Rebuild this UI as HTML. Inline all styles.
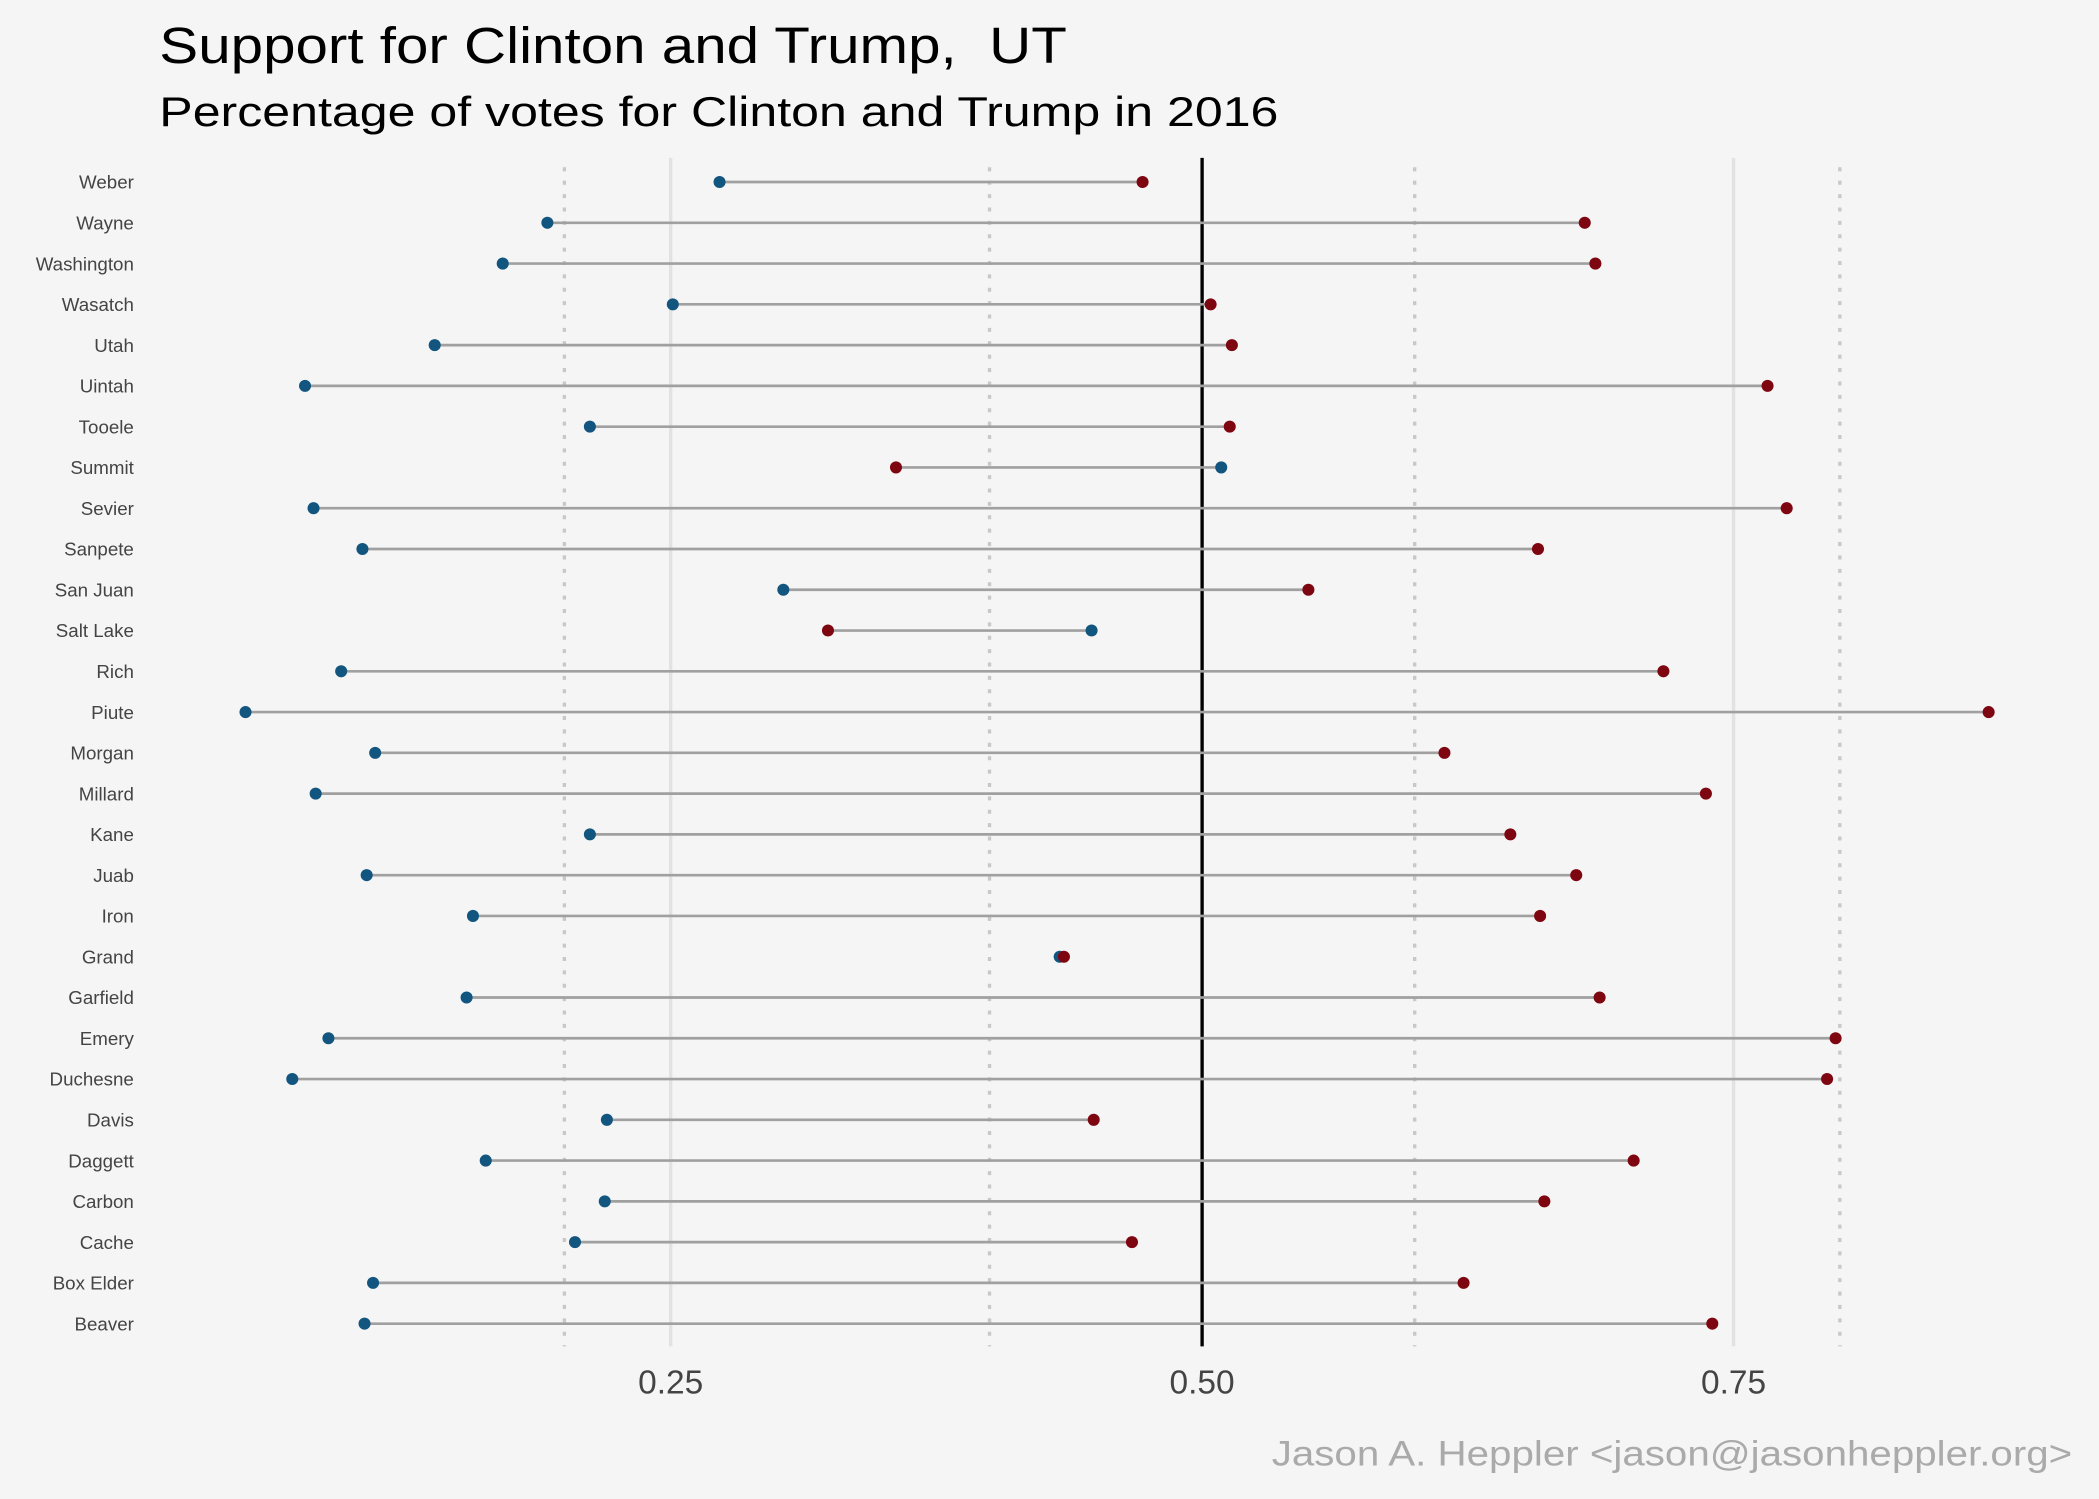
<!DOCTYPE html>
<html><head><meta charset="utf-8"><style>
html,body{margin:0;padding:0;background:#f5f5f5;}
svg{display:block;}
text{font-family:"Liberation Sans",sans-serif;}
</style></head><body>
<svg id="chart" width="2099" height="1499" viewBox="0 0 1568 1120" preserveAspectRatio="none" xmlns="http://www.w3.org/2000/svg">
<rect x="0" y="0" width="1568" height="1120" fill="#f5f5f5"/>
<text x="119" y="47" font-size="38" fill="#000" textLength="678" lengthAdjust="spacingAndGlyphs">Support for Clinton and Trump,&#160; UT</text>
<text x="119" y="94" font-size="31" fill="#000" textLength="836" lengthAdjust="spacingAndGlyphs">Percentage of votes for Clinton and Trump in 2016</text>
<text x="1548" y="1095" font-size="26" fill="#aaa" text-anchor="end" textLength="598" lengthAdjust="spacingAndGlyphs">Jason A. Heppler &lt;jason@jasonheppler.org&gt;</text>
<g id="grid"></g>
<g id="marks"></g>
<g id="labels"></g>
</svg>
<script>
const counties = ["Weber","Wayne","Washington","Wasatch","Utah","Uintah","Tooele","Summit","Sevier","Sanpete","San Juan","Salt Lake","Rich","Piute","Morgan","Millard","Kane","Juab","Iron","Grand","Garfield","Emery","Duchesne","Davis","Daggett","Carbon","Cache","Box Elder","Beaver"];
const clinton = [0.273,0.192,0.171,0.251,0.139,0.078,0.212,0.509,0.082,0.105,0.303,0.448,0.095,0.050,0.111,0.083,0.212,0.107,0.157,0.433,0.154,0.089,0.072,0.220,0.163,0.219,0.205,0.110,0.106];
const trump = [0.472,0.680,0.685,0.504,0.514,0.766,0.513,0.356,0.775,0.658,0.550,0.324,0.717,0.870,0.614,0.737,0.645,0.676,0.659,0.435,0.687,0.798,0.794,0.449,0.703,0.661,0.467,0.623,0.740];
const majorTicks = [0.25,0.5,0.75];
const majorLabels = ["0.25","0.50","0.75"];
const dottedRefs = [0.2,0.4,0.6,0.8];

const NS="http://www.w3.org/2000/svg";
function xs(v){return 501+(v-0.25)*1588;}
function ys(i){return 136+i*(989-136)/(counties.length-1);}
function mk(tag,attrs,parent){const e=document.createElementNS(NS,tag);for(const k in attrs)e.setAttribute(k,attrs[k]);parent.appendChild(e);return e;}
const gridG=document.getElementById('grid'),marksG=document.getElementById('marks'),labelsG=document.getElementById('labels');
const plotTop=118,plotBot=1006;
majorTicks.forEach((t,i)=>{
  const l=mk('line',{x1:xs(t),x2:xs(t),y1:plotTop,y2:plotBot,stroke:t===0.5?'#000':'#e2e2e2','stroke-width':2.5},gridG);
  
  
  const tx=mk('text',{x:xs(t),y:1041,'font-size':25,fill:'#444','text-anchor':'middle'},labelsG);
  tx.textContent=majorLabels[i];
  
  
});
dottedRefs.forEach(t=>{
  const l=mk('line',{x1:xs(t),x2:xs(t),y1:plotTop+7,y2:plotBot,stroke:'#c8c8c8','stroke-width':2.5,'stroke-dasharray':'3 7'},gridG);
  
  
});
counties.forEach((c,i)=>{
  const y=ys(i);
  const t=mk('text',{x:100,y:y+5,'font-size':14,fill:'#444','text-anchor':'end'},labelsG);
  t.textContent=c;
  
  
  const seg=mk('line',{x1:xs(clinton[i]),x2:xs(trump[i]),y1:y,y2:y,stroke:'#a0a0a0','stroke-width':2},marksG);
  
  
  const b=mk('circle',{cx:xs(clinton[i]),cy:y,r:4.5,fill:'#12557f'},marksG);
  
  
  const r=mk('circle',{cx:xs(trump[i]),cy:y,r:4.5,fill:'#7d0610'},marksG);
  
  
});
</script>
</body></html>
